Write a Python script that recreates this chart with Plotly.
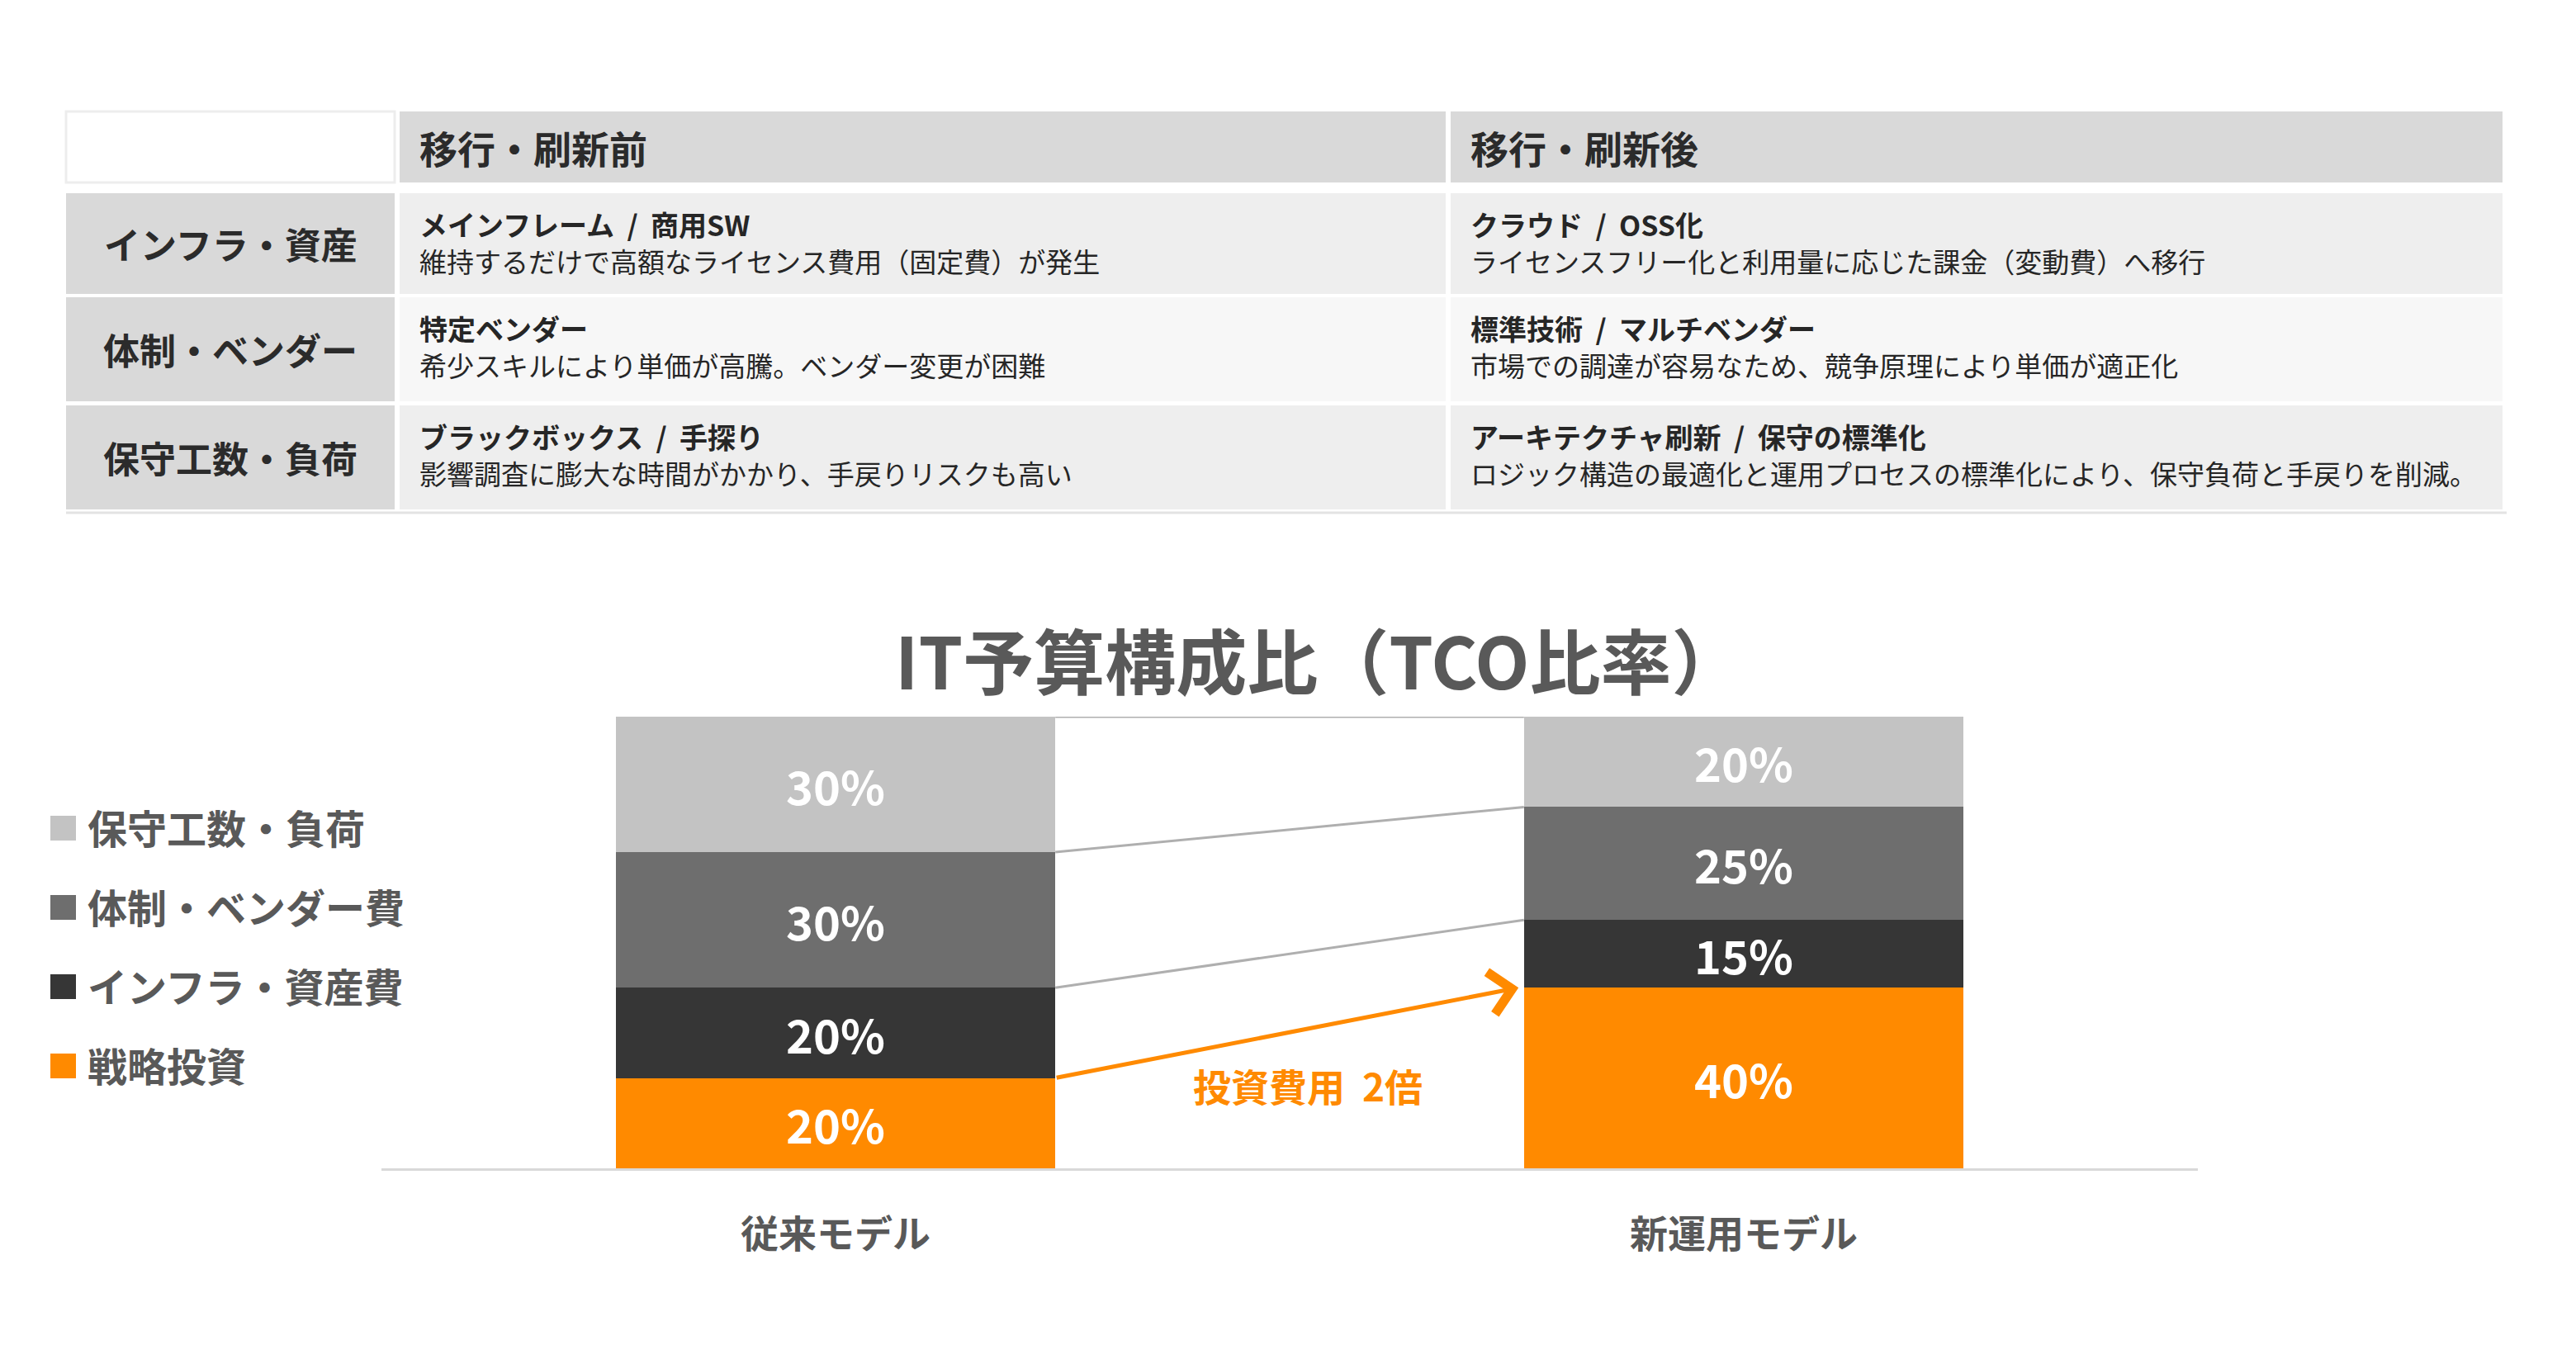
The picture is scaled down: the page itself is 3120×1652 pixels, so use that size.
import plotly.graph_objects as go

W, H = 3120, 1652
FONT = "Noto Sans CJK JP"

# ---------------- data ----------------
models = ["従来モデル", "新運用モデル"]
series_names = ["戦略投資", "インフラ・資産費", "体制・ベンダー費", "保守工数・負荷"]
strategic = [20, 40]
infra = [20, 15]
vendor = [30, 25]
maintenance = [30, 20]
series_colors = ["#FF8A00", "#363636", "#6E6E6E", "#C3C3C3"]

chart_title = "IT予算構成比（TCO比率）"
callout_text = "投資費用 2倍"

table_headers = ["移行・刷新前", "移行・刷新後"]
table_rows = ["インフラ・資産", "体制・ベンダー", "保守工数・負荷"]
before_titles = ["メインフレーム / 商用SW", "特定ベンダー", "ブラックボックス / 手探り"]
before_notes = ["維持するだけで高額なライセンス費用（固定費）が発生",
                "希少スキルにより単価が高騰。ベンダー変更が困難",
                "影響調査に膨大な時間がかかり、手戻りリスクも高い"]
after_titles = ["クラウド / OSS化", "標準技術 / マルチベンダー", "アーキテクチャ刷新 / 保守の標準化"]
after_notes = ["ライセンスフリー化と利用量に応じた課金（変動費）へ移行",
               "市場での調達が容易なため、競争原理により単価が適正化",
               "ロジック構造の最適化と運用プロセスの標準化により、保守負荷と手戻りを削減。"]

# ---------------- helpers ----------------
def X(px):
    return px / W

def Y(py):
    return 1 - py / H

series_values = [strategic, infra, vendor, maintenance]
xpos = list(range(len(models)))
BAR_W = 0.484

fig = go.Figure()

for name, vals, col in zip(series_names, series_values, series_colors):
    fig.add_trace(go.Bar(
        x=xpos, y=vals, name=name, width=BAR_W,
        marker=dict(color=col, line=dict(width=0)),
        text=[f"{v}%" for v in vals], textposition="inside",
        insidetextanchor="middle", textangle=0,
        textfont=dict(color="white", size=56, family=FONT, weight="bold"),
        showlegend=False, hoverinfo="skip",
    ))

# cumulative boundaries -> series lines
cum = []
run = [0] * len(models)
for vals in series_values:
    run = [a + b for a, b in zip(run, vals)]
    cum.append(list(run))

x_left_edge = xpos[0] + BAR_W / 2
x_right_edge = xpos[1] - BAR_W / 2
for lvl in cum[1:]:
    fig.add_trace(go.Scatter(
        x=[x_left_edge, x_right_edge], y=[lvl[0], lvl[1]], mode="lines",
        line=dict(color="#AFAFAF", width=3), showlegend=False, hoverinfo="skip",
    ))

annotations = []
shapes = []

# orange arrow for strategic investment boundary
annotations.append(dict(
    x=x_right_edge - 0.006, y=cum[0][1], xref="x", yref="y",
    ax=x_left_edge, ay=cum[0][0], axref="x", ayref="y",
    text="", showarrow=True, arrowhead=4, arrowsize=2, arrowwidth=5,
    arrowcolor=series_colors[0],
))
annotations.append(dict(
    x=(x_left_edge + x_right_edge) / 2 + 0.02, y=(cum[0][0] + cum[0][1]) / 2 - 11.5,
    xref="x", yref="y", text=callout_text.replace(" ", "&nbsp;&nbsp;"), showarrow=False,
    font=dict(size=46, color=series_colors[0], family=FONT, weight="bold"),
))

# chart title
annotations.append(dict(
    x=X(1598), y=Y(797), xref="paper", yref="paper", text=chart_title,
    showarrow=False, xanchor="center", yanchor="middle",
    font=dict(size=86, color="#595959", family=FONT, weight="bold"),
))

# manual legend
for i, (name, col) in enumerate(zip(series_names[::-1], series_colors[::-1])):
    cy = 1003 + i * 96
    shapes.append(dict(type="rect", xref="paper", yref="paper",
                       x0=X(61), x1=X(92), y0=Y(cy + 15), y1=Y(cy - 15),
                       fillcolor=col, line=dict(width=0)))
    annotations.append(dict(
        x=X(104), y=Y(cy - 2), xref="paper", yref="paper", text=name,
        showarrow=False, xanchor="left", yanchor="middle",
        font=dict(size=48, color="#595959", family=FONT, weight="bold"),
    ))

# ---------------- table ----------------
col_x = [(80, 478), (484, 1751), (1757, 3031)]
row_y = [(135, 221), (234, 356), (360, 486), (491, 617)]
content_fill = ["#EEEEEE", "#F7F7F7", "#EEEEEE"]

def rect(x0, x1, y0, y1, fill, line=None):
    shapes.append(dict(type="rect", xref="paper", yref="paper", layer="below",
                       x0=X(x0), x1=X(x1), y0=Y(y1), y1=Y(y0), fillcolor=fill,
                       line=line if line else dict(width=0)))

# header row
rect(col_x[0][0], col_x[0][1], row_y[0][0], row_y[0][1], "#FFFFFF",
     dict(color="#EDEDED", width=3))
for j, hdr in enumerate(table_headers):
    cx0, cx1 = col_x[j + 1]
    rect(cx0, cx1, row_y[0][0], row_y[0][1], "#D9D9D9")
    annotations.append(dict(
        x=X(cx0 + 22), y=Y((row_y[0][0] + row_y[0][1]) / 2), xref="paper", yref="paper",
        text=hdr, showarrow=False, xanchor="left", yanchor="middle",
        font=dict(size=46, color="#2B2B2B", family=FONT, weight="bold"),
    ))

for i, lab in enumerate(table_rows):
    y0, y1 = row_y[i + 1]
    rect(col_x[0][0], col_x[0][1], y0, y1, "#D9D9D9")
    annotations.append(dict(
        x=X((col_x[0][0] + col_x[0][1]) / 2), y=Y((y0 + y1) / 2), xref="paper", yref="paper",
        text=lab, showarrow=False, xanchor="center", yanchor="middle",
        font=dict(size=44, color="#2B2B2B", family=FONT, weight="bold"),
    ))
    for j, (titles, notes) in enumerate([(before_titles, before_notes), (after_titles, after_notes)]):
        cx0, cx1 = col_x[j + 1]
        rect(cx0, cx1, y0, y1, content_fill[i])
        annotations.append(dict(
            x=X(cx0 + 22), y=Y(y0 + 37), xref="paper", yref="paper",
            text=titles[i].replace(" / ", "&nbsp;&nbsp;/&nbsp;&nbsp;"), showarrow=False,
            xanchor="left", yanchor="middle",
            font=dict(size=34, color="#262626", family=FONT, weight="bold"),
        ))
        annotations.append(dict(
            x=X(cx0 + 22), y=Y(y0 + 82), xref="paper", yref="paper",
            text=notes[i], showarrow=False, xanchor="left", yanchor="middle",
            font=dict(size=33, color="#262626", family=FONT),
        ))

shapes.append(dict(type="line", xref="paper", yref="paper", layer="below",
                   x0=X(80), x1=X(3036), y0=Y(621), y1=Y(621),
                   line=dict(color="#E3E3E3", width=3)))

fig.update_layout(
    width=W, height=H, margin=dict(l=0, r=0, t=0, b=0),
    paper_bgcolor="white", plot_bgcolor="white",
    barmode="stack", bargap=0,
    font=dict(family=FONT, color="#595959"),
    uniformtext=dict(minsize=56, mode="show"),
    xaxis=dict(domain=[X(462), X(2662)], range=[-0.5, 1.5],
               tickvals=xpos, ticktext=models, showgrid=False, zeroline=False,
               showline=True, linecolor="#D9D9D9", linewidth=3,
               ticks="outside", ticklen=38, tickcolor="rgba(0,0,0,0)",
               tickfont=dict(size=46, color="#595959", family=FONT, weight="bold")),
    yaxis=dict(domain=[Y(1415), Y(868)], range=[0, 100], visible=False),
    annotations=annotations, shapes=shapes,
)

fig.write_html("out.html")
